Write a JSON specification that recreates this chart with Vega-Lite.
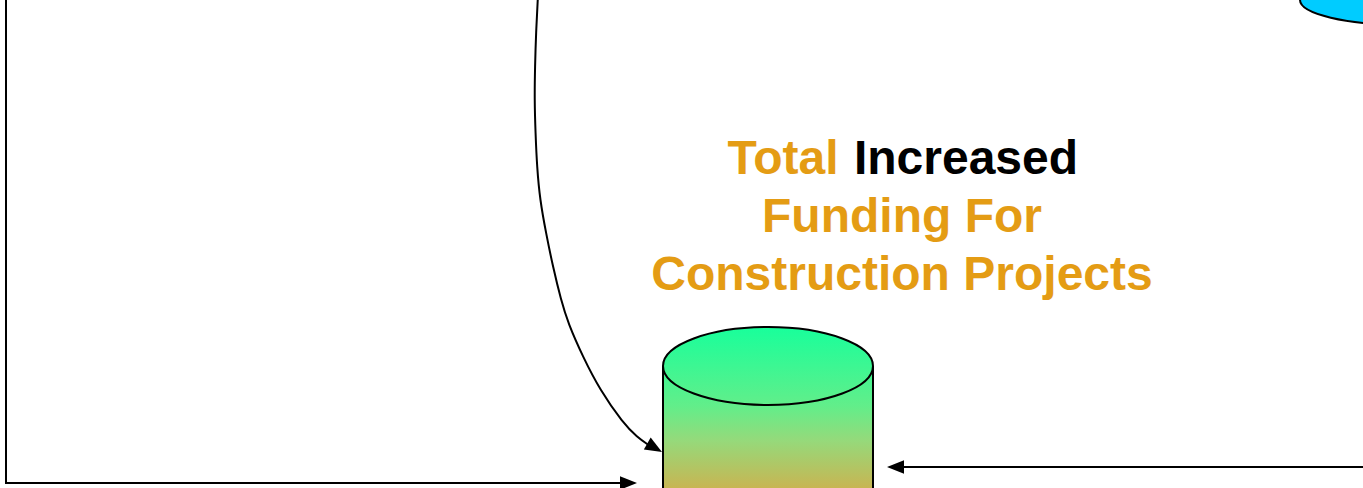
{
  "$schema": "https://vega.github.io/schema/vega-lite/v6.json",
  "width": 1363,
  "height": 488,
  "autosize": {"type": "none"},
  "padding": 0,
  "background": "white",
  "config": {"view": {"stroke": null}},
  "encoding": {
    "x": {"field": "x", "type": "quantitative", "scale": {"domain": [0, 1363], "nice": false, "zero": false}, "axis": null},
    "y": {"field": "y", "type": "quantitative", "scale": {"domain": [0, 488], "reverse": true, "nice": false, "zero": false}, "axis": null}
  },
  "layer": [
    {
      "data": {"values": [
        {"i": 0, "x": 538, "y": -5},
        {"i": 1, "x": 536, "y": 33},
        {"i": 2, "x": 535, "y": 67},
        {"i": 3, "x": 534.5, "y": 100},
        {"i": 4, "x": 535.5, "y": 133},
        {"i": 5, "x": 537, "y": 167},
        {"i": 6, "x": 540, "y": 200},
        {"i": 7, "x": 546, "y": 233},
        {"i": 8, "x": 553, "y": 267},
        {"i": 9, "x": 561, "y": 300},
        {"i": 10, "x": 568, "y": 323},
        {"i": 11, "x": 583, "y": 357},
        {"i": 12, "x": 600, "y": 390},
        {"i": 13, "x": 623, "y": 423},
        {"i": 14, "x": 637, "y": 437},
        {"i": 15, "x": 650, "y": 446}
      ]},
      "mark": {"type": "line", "interpolate": "basis", "color": "black", "strokeWidth": 2},
      "encoding": {"order": {"field": "i", "type": "quantitative"}}
    },
    {
      "data": {"values": [
        {"i": 0, "x": 6, "y": -5},
        {"i": 1, "x": 6, "y": 483},
        {"i": 2, "x": 625, "y": 483}
      ]},
      "mark": {"type": "line", "color": "black", "strokeWidth": 2},
      "encoding": {"order": {"field": "i", "type": "quantitative"}}
    },
    {
      "data": {"values": [
        {"i": 0, "x": 1370, "y": 467},
        {"i": 1, "x": 898, "y": 467}
      ]},
      "mark": {"type": "line", "color": "black", "strokeWidth": 2},
      "encoding": {"order": {"field": "i", "type": "quantitative"}}
    },
    {
      "data": {"values": [{"x": 637, "y": 483}]},
      "mark": {"type": "point", "shape": "M 0 0 L -2 -0.8 L -2 0.8 Z", "size": 289, "filled": true, "fill": "black", "strokeWidth": 0, "opacity": 1, "angle": 0}
    },
    {
      "data": {"values": [{"x": 662, "y": 452}]},
      "mark": {"type": "point", "shape": "M 0 0 L -2 -0.8 L -2 0.8 Z", "size": 289, "filled": true, "fill": "black", "strokeWidth": 0, "opacity": 1, "angle": 30}
    },
    {
      "data": {"values": [{"x": 887, "y": 467}]},
      "mark": {"type": "point", "shape": "M 0 0 L -2 -0.8 L -2 0.8 Z", "size": 289, "filled": true, "fill": "black", "strokeWidth": 0, "opacity": 1, "angle": 180}
    },
    {
      "data": {"values": [{"x": 768, "y": 366}]},
      "mark": {
        "type": "point",
        "shape": "M -1 0 A 1 0.371 0 0 0 1 0 L 1 1.3 L -1 1.3 Z M -1 0 A 1 0.371 0 0 1 1 0 A 1 0.371 0 0 1 -1 0 Z",
        "size": 44100,
        "filled": true,
        "opacity": 1,
        "fill": {
          "gradient": "linear", "x1": 0, "y1": 0, "x2": 0, "y2": 1,
          "stops": [
            {"offset": 0, "color": "#18FF9B"},
            {"offset": 0.45, "color": "#62EE8A"},
            {"offset": 0.65, "color": "#96D97A"},
            {"offset": 0.92, "color": "#C8B552"},
            {"offset": 1, "color": "#CFAF48"}
          ]
        },
        "stroke": "black",
        "strokeWidth": 2,
        "strokeOpacity": 1
      }
    },
    {
      "data": {"values": [{"x": 1405, "y": 0}]},
      "mark": {
        "type": "point",
        "shape": "M -1 0 A 1 0.238 0 0 1 1 0 A 1 0.238 0 0 1 -1 0 Z",
        "size": 44100,
        "filled": true,
        "opacity": 1,
        "fill": "#00CCFF",
        "stroke": "black",
        "strokeWidth": 2,
        "strokeOpacity": 1
      }
    },
    {
      "data": {"values": [
        {"label": "Total", "x": 783, "y": 174},
        {"label": "Funding For", "x": 902, "y": 232},
        {"label": "Construction Projects", "x": 902, "y": 290}
      ]},
      "mark": {"type": "text", "font": "Liberation Sans", "fontWeight": "bold", "fontSize": 48, "color": "#E49C14", "align": "center", "baseline": "alphabetic"},
      "encoding": {"text": {"field": "label"}}
    },
    {
      "data": {"values": [
        {"label": "Increased", "x": 966, "y": 174}
      ]},
      "mark": {"type": "text", "font": "Liberation Sans", "fontWeight": "bold", "fontSize": 48, "color": "black", "align": "center", "baseline": "alphabetic"},
      "encoding": {"text": {"field": "label"}}
    }
  ]
}
